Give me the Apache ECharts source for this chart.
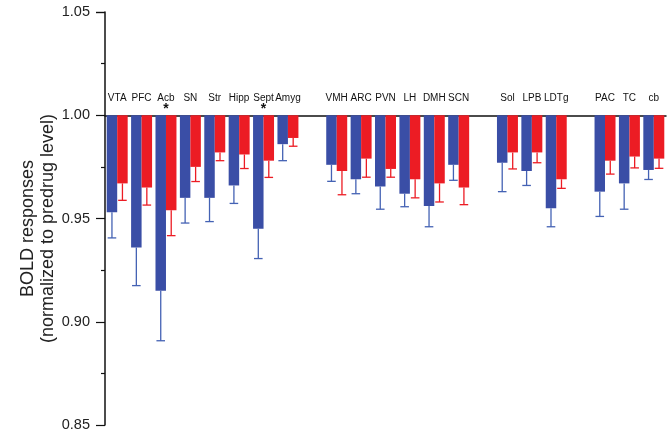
<!DOCTYPE html>
<html><head><meta charset="utf-8">
<script src="https://cdn.jsdelivr.net/npm/echarts@6/dist/echarts.min.js"></script>
<style>html,body{margin:0;padding:0;background:#fff}#c{width:672px;height:435px}</style>
</head><body><div id="c"></div>
<script>
// Regions (blank entries are the gaps between region groups)
const categories = ['VTA','PFC','Acb','SN','Str','Hipp','Sept','Amyg',' ','VMH','ARC','PVN','LH','DMH','SCN','  ','Sol','LPB','LDTg','   ','PAC','TC','cb'];
// BOLD responses normalized to predrug level
const blueValues = [0.953,0.936,0.915,0.960,0.960,0.966,0.945,0.986,null,0.976,0.969,0.9655,0.962,0.956,0.976,null,0.977,0.973,0.955,null,0.963,0.967,0.9735];
const blueErrors = [0.0124,0.0185,0.0242,0.0122,0.0115,0.0087,0.0144,0.008,null,0.008,0.007,0.011,0.0063,0.010,0.0075,null,0.014,0.007,0.009,null,0.012,0.0125,0.0046];
const redValues  = [0.967,0.965,0.954,0.975,0.982,0.981,0.978,0.989,null,0.973,0.979,0.974,0.969,0.967,0.965,null,0.982,0.982,0.969,null,0.978,0.980,0.979];
const redErrors  = [0.0082,0.0085,0.0123,0.0071,0.004,0.0068,0.0081,0.004,null,0.0115,0.009,0.004,0.009,0.009,0.0083,null,0.008,0.005,0.0044,null,0.0065,0.0055,0.0047];
const significant = ['Acb','Sept'];
const yMin = 0.85, yMax = 1.05, yStep = 0.05, baseline = 1.00;

const FONT = '"Liberation Sans", Arial, Helvetica, sans-serif';
const BLUE = '#3a4ea6', RED = '#ec1c24', BLUE_ERR = '#4462b4', RED_ERR = '#ec1c24';
const CAT_GAP = 0.14;
const W = 672, H = 435, GRID = { left: 105, right: 6, top: 12, bottom: 10 };
const gridH = H - GRID.top - GRID.bottom;
const baseOffset = -gridH * (yMax - baseline) / (yMax - yMin);

// offsets from baseline, in percent units
const toT = v => v == null ? null : Math.round((v - baseline) * 100 * 10000) / 10000;
const blueT = blueValues.map(toT);
const redT = redValues.map(toT);
function errData(vals, errs) {
  const out = [];
  vals.forEach((v, i) => { if (v != null) out.push([i, toT(v), errs[i] * 100]); });
  return out;
}
function errRender(side, color) {
  return function (params, api) {
    const idx = api.value(0), v = api.value(1), e = api.value(2);
    const top = api.coord([idx, v]);
    const bot = api.coord([idx, v - e]);
    const bw = api.size([1, 0])[0] * (1 - CAT_GAP) / 2;
    const x = top[0] + side * bw / 2;
    const style = { stroke: color, lineWidth: 1.3 };
    return { type: 'group', children: [
      { type: 'line', shape: { x1: x, y1: top[1], x2: x, y2: bot[1] }, style },
      { type: 'line', shape: { x1: x - 4.3, y1: bot[1], x2: x + 4.3, y2: bot[1] }, style }
    ]};
  };
}

const chart = echarts.init(document.getElementById('c'), null, { renderer: 'canvas' });
chart.setOption({
  animation: false,
  backgroundColor: '#fff',
  grid: Object.assign({ containLabel: false }, GRID),
  xAxis: {
    type: 'category', data: categories, position: 'top', offset: baseOffset,
    axisLine: { onZero: false, lineStyle: { color: '#111', width: 1.5 } },
    axisTick: { show: false },
    axisLabel: {
      interval: 0, margin: 2, hideOverlap: false,
      formatter: v => '{n|' + v + '}\n{s|' + (significant.includes(v) ? '*' : ' ') + '}',
      rich: {
        n: { fontSize: 10, fontFamily: FONT, color: '#111', lineHeight: 12 },
        s: { fontSize: 14, fontFamily: FONT, color: '#111', lineHeight: 9, fontWeight: 'bold' }
      }
    }
  },
  yAxis: {
    type: 'value',
    min: (yMin - baseline) * 100, max: (yMax - baseline) * 100, interval: yStep * 100,
    name: 'BOLD responses\n(normalized to predrug level)',
    nameLocation: 'middle', nameRotate: 90, nameGap: 47, nameMoveOverlap: false,
    nameTextStyle: { fontSize: 18, fontFamily: FONT, color: '#222', lineHeight: 20, padding: [0, 20, 0, 0] },
    axisLine: { show: true, lineStyle: { color: '#111', width: 1.5 } },
    axisTick: { show: true, length: 9, lineStyle: { color: '#111', width: 1.2 } },
    minorTick: { show: true, splitNumber: 2, length: 4, lineStyle: { color: '#111', width: 1.2 } },
    splitLine: { show: false },
    axisLabel: {
      fontSize: 14.5, fontFamily: FONT, color: '#222', margin: 15,
      formatter: v => ((100 + v) / 100).toFixed(2)
    }
  },
  series: [
    { type: 'bar', data: blueT, barGap: '0%', barCategoryGap: (CAT_GAP * 100) + '%', itemStyle: { color: BLUE }, z: 2 },
    { type: 'bar', data: redT, barGap: '0%', barCategoryGap: (CAT_GAP * 100) + '%', itemStyle: { color: RED }, z: 2 },
    { type: 'custom', data: errData(blueValues, blueErrors), renderItem: errRender(-1, BLUE_ERR), z: 3, encode: { x: 0, y: 1 } },
    { type: 'custom', data: errData(redValues, redErrors), renderItem: errRender(1, RED_ERR), z: 3, encode: { x: 0, y: 1 } }
  ]
});
</script>
</body></html>
